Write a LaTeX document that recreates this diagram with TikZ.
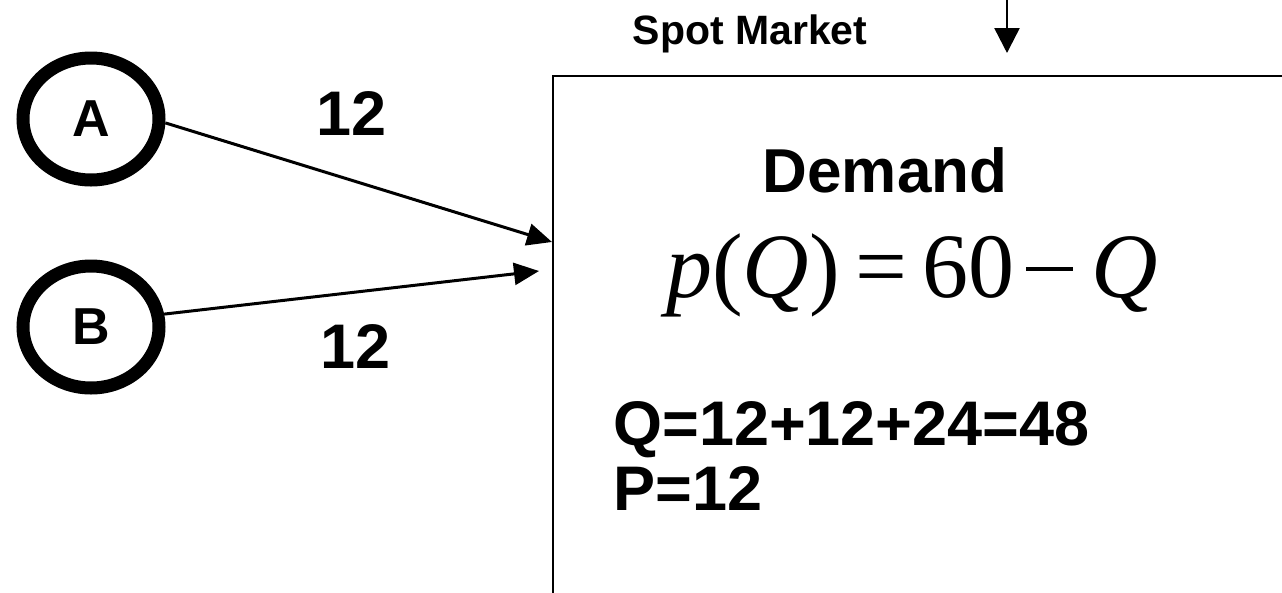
\documentclass[tikz,border=0pt]{standalone}
\usepackage{fontspec}
\setmainfont{Liberation Sans}
\newfontfamily\timesfont{Liberation Serif}
\usetikzlibrary{arrows.meta,shapes.geometric}
\tikzset{
  firm/.style={draw, ellipse, line width=13pt, minimum width=136pt, minimum height=122pt, inner sep=0pt,
    font=\fontsize{52}{58}\selectfont\bfseries},
  conn/.style={line width=3pt, -{Triangle[length=25pt,width=22pt]}},
  lbl/.style={font=\fontsize{63}{70}\selectfont\bfseries, inner sep=0pt, anchor=base},
  big/.style={font=\fontsize{63}{70}\selectfont\bfseries, inner sep=0pt, anchor=base west},
}
\begin{document}
\begin{tikzpicture}[x=1pt,y=-1pt]
\useasboundingbox (0,0) rectangle (1282,592);
% market box (left and top edges visible)
\coordinate (boxbl) at (553,600);
\coordinate (boxtl) at (553,76);
\coordinate (boxtr) at (1290,76);
\draw[line width=2pt] (boxbl) -- (boxtl) -- (boxtr);
% incoming top arrow
\coordinate (topin) at (1007,-5);
\coordinate (toptip) at (1007,53);
\draw[line width=2.5pt, -{Triangle[length=25pt,width=25pt]}] (topin) -- (toptip);
\node[font=\fontsize{41}{46}\selectfont\bfseries, inner sep=0pt, anchor=base] (spot) at (750,44) {Spot Market};
% firms
\node[firm] (A) at (91,119) {A};
\node[firm] (B) at (91,327) {B};
\coordinate (tipA) at (552,242);
\coordinate (tipB) at (539,271);
\draw[conn] (A.-3) -- (tipA);
\draw[conn] (B.10) -- (tipB);
\node[lbl] (qa) at (352,135) {12};
\node[lbl] (qb) at (356,368) {12};
% box content
\node[font=\fontsize{62}{68}\selectfont\bfseries, inner sep=0pt, anchor=base] (dem) at (885,192) {Demand};
\node[font=\fontsize{92}{100}\selectfont\timesfont, inner sep=0pt, anchor=base] (eq) at (912,297)
  {\textit{p}(\textit{Q})\,=\,60\hspace{0.13em}\rule[0.28em]{0.51em}{0.045em}\hspace{0.2em}\textit{Q}};
\node[big] (qq) at (613,445) {Q=12+12+24=48};
\node[big] (pp) at (613,510) {P=12};
\end{tikzpicture}
\end{document}
